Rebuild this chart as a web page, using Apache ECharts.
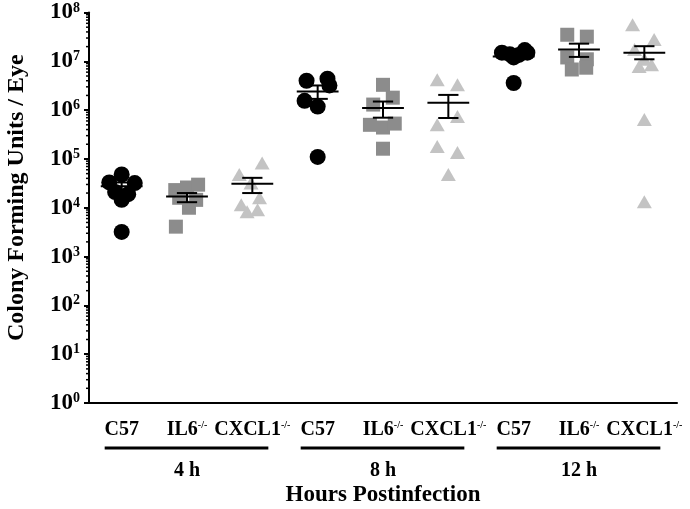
<!DOCTYPE html>
<html>
<head>
<meta charset="UTF-8">
<title>CFU per eye</title>
<script src="https://cdn.jsdelivr.net/npm/echarts@6/dist/echarts.min.js"></script>
<style>
  html, body { margin: 0; padding: 0; background: #fff; }
  #chart { width: 690px; height: 509px; }
</style>
</head>
<body>
<div id="chart"></div>
<script>
const strains = ['C57', 'IL6', 'CXCL1'];
const strainSup = ['', '-/-', '-/-'];
const times = ['4 h', '8 h', '12 h'];
const xTitle = 'Hours Postinfection';
const yTitle = 'Colony Forming Units / Eye';

// CFU / eye, one inner array per time point (4 h, 8 h, 12 h)
const c57 = [
  [4.8e4, 3.3e4, 3.2e4, 2.1e4, 1.9e4, 1.45e4, 3.2e3],
  [4.0e6, 4.4e6, 3.2e6, 1.55e6, 1.18e6, 1.1e5],
  [1.5e7, 1.4e7, 1.7e7, 1.5e7, 1.2e7, 1.35e7, 3.6e6]
];
const il6 = [
  [2.3e4, 2.6e4, 2.97e4, 1.6e4, 1.45e4, 1.0e4, 4.1e3],
  [3.3e6, 1.8e6, 1.3e6, 5.0e5, 4.4e5, 5.3e5, 1.62e5],
  [3.5e7, 3.2e7, 1.2e7, 1.1e7, 6.8e6, 7.4e6]
];
const cxcl1 = [
  [8.3e4, 4.8e4, 3.2e4, 1.6e4, 1.15e4, 8.3e3, 9.1e3],
  [4.2e6, 3.3e6, 7.4e5, 5.0e5, 1.8e5, 1.35e5, 4.8e4],
  [5.6e7, 2.8e7, 1.74e7, 1.1e7, 7.8e6, 8.5e6, 6.4e5, 1.32e4]
];

// mean and mean +/- SEM, groups in axis order
const groupMean = [2.75e4, 1.7e4, 3.1e4, 2.4e6, 1.1e6, 1.42e6, 1.26e7, 1.74e7, 1.5e7];
const groupLow  = [2.3e4, 1.3e4, 2.0e4, 1.7e6, 7.0e5, 6.9e5, 1.1e7, 1.23e7, 1.1e7];
const groupHigh = [3.3e4, 2.0e4, 4.1e4, 3.2e6, 1.5e6, 2.05e6, 1.43e7, 2.3e7, 2.04e7];

// horizontal scatter of the dots, in category widths
const jitC57 = [
  [0, -0.19, 0.2, -0.1, 0.1, 0, 0],
  [-0.17, 0.15, 0.18, -0.2, 0, 0],
  [-0.18, -0.06, 0.17, 0.21, 0, 0.08, 0]
];
const jitIl6 = [
  [-0.18, 0, 0.17, -0.12, 0.14, 0.03, -0.17],
  [0, 0.15, -0.15, -0.2, 0, 0.18, 0],
  [-0.18, 0.12, -0.18, 0.12, -0.11, 0.11]
];
const jitCxcl1 = [
  [0.15, -0.2, -0.02, 0.11, -0.17, -0.08, 0.08],
  [-0.17, 0.14, 0.14, -0.17, -0.17, 0.14, 0],
  [-0.18, 0.15, -0.15, 0, -0.08, 0.11, 0, 0]
];

const FONT = '"Liberation Serif", "Times New Roman", serif';

const catLabels = [];
times.forEach(function () {
  strains.forEach(function (s, i) { catLabels.push(i); });
});

function points(vals, jit, s) {
  const out = [];
  vals.forEach(function (arr, t) {
    arr.forEach(function (v, j) {
      out.push([t * 3 + s + jit[t][j], v]);
    });
  });
  return out;
}

const errData = groupMean.map(function (m, i) {
  return [i, m, groupLow[i], groupHigh[i]];
});

const minorData = [];
for (let e = 0; e < 8; e++) {
  for (let k = 2; k <= 9; k++) minorData.push([-0.5, k * Math.pow(10, e)]);
}

const groupData = times.map(function (t, i) { return [i * 3, i * 3 + 2, i]; });

const chart = echarts.init(document.getElementById('chart'));
chart.setOption({
  animation: false,
  backgroundColor: '#fff',
  grid: { left: 89, right: 13, top: 12.5, bottom: 106, containLabel: false, outerBoundsMode: 'none' },
  xAxis: [
    {
      type: 'category',
      position: 'bottom',
      data: catLabels,
      axisLine: { onZero: false, lineStyle: { color: '#000', width: 2 } },
      axisTick: { alignWithLabel: true, length: 5, lineStyle: { color: '#000', width: 2 } },
      axisLabel: {
        margin: 17,
        interval: 0,
        formatter: function (v) {
          const i = +v;
          return strainSup[i] ? '{b|' + strains[i] + '}{s|' + strainSup[i] + '}' : '{b|' + strains[i] + '}';
        },
        rich: {
          b: { fontFamily: FONT, fontWeight: 'bold', fontSize: 20, color: '#000', lineHeight: 20 },
          s: { fontFamily: FONT, fontWeight: 'bold', fontSize: 10, color: '#000', lineHeight: 10, verticalAlign: 'top' }
        }
      },
      name: xTitle,
      nameLocation: 'middle',
      nameGap: 81,
      nameTextStyle: { fontFamily: FONT, fontWeight: 'bold', fontSize: 23, color: '#000' }
    },
    { type: 'value', min: -0.5, max: 8.5, show: false }
  ],
  yAxis: {
    type: 'log',
    logBase: 10,
    min: 1,
    max: 1e8,
    splitNumber: 8,
    splitLine: { show: false },
    axisLine: { show: true, onZero: false, lineStyle: { color: '#000', width: 2 } },
    axisTick: { show: true, length: 5, lineStyle: { color: '#000', width: 2 } },
    axisLabel: {
      margin: 9,
      formatter: function (v) {
        return '{b|10}{s|' + Math.round(Math.log10(v)) + '}';
      },
      rich: {
        b: { fontFamily: FONT, fontWeight: 'bold', fontSize: 23, color: '#000', lineHeight: 23 },
        s: { fontFamily: FONT, fontWeight: 'bold', fontSize: 14, color: '#000', lineHeight: 14, verticalAlign: 'top' }
      }
    },
    name: yTitle,
    nameLocation: 'middle',
    nameGap: 60,
    nameTextStyle: { fontFamily: FONT, fontWeight: 'bold', fontSize: 24, color: '#000', padding: [0, 0, 0, 20] }
  },
  series: [
    {
      type: 'scatter', xAxisIndex: 1, symbol: 'circle', symbolSize: 16,
      itemStyle: { color: '#000', opacity: 1 },
      data: points(c57, jitC57, 0), z: 2
    },
    {
      type: 'scatter', xAxisIndex: 1, symbol: 'rect', symbolSize: 14,
      itemStyle: { color: '#8c8c8c', opacity: 1 },
      data: points(il6, jitIl6, 1), z: 2
    },
    {
      type: 'scatter', xAxisIndex: 1, symbol: 'triangle', symbolSize: [15, 13],
      itemStyle: { color: '#c3c3c3', opacity: 1 },
      data: points(cxcl1, jitCxcl1, 2), z: 2
    },
    {
      // mean +/- SEM
      type: 'custom', xAxisIndex: 1, z: 5, clip: false,
      encode: { x: 0, y: 1 },
      data: errData,
      renderItem: function (params, api) {
        const x = api.value(0);
        const m = api.coord([x, api.value(1)]);
        const lo = api.coord([x, api.value(2)]);
        const hi = api.coord([x, api.value(3)]);
        const bw = api.coord([x + 1, api.value(1)])[0] - m[0];
        const wm = bw * 0.32, wc = bw * 0.155;
        const st = { stroke: '#000', lineWidth: 2 };
        return {
          type: 'group',
          children: [
            { type: 'line', shape: { x1: m[0] - wm, y1: m[1], x2: m[0] + wm, y2: m[1] }, style: st },
            { type: 'line', shape: { x1: m[0], y1: hi[1], x2: m[0], y2: lo[1] }, style: st },
            { type: 'line', shape: { x1: m[0] - wc, y1: hi[1], x2: m[0] + wc, y2: hi[1] }, style: st },
            { type: 'line', shape: { x1: m[0] - wc, y1: lo[1], x2: m[0] + wc, y2: lo[1] }, style: st }
          ]
        };
      }
    },
    {
      // log minor ticks on the y axis
      type: 'custom', xAxisIndex: 1, z: 5, clip: false, silent: true,
      encode: { x: 0, y: 1 },
      data: minorData,
      renderItem: function (params, api) {
        const p = api.coord([api.value(0), api.value(1)]);
        return {
          type: 'line',
          shape: { x1: p[0] - 3, y1: p[1], x2: p[0], y2: p[1] },
          style: { stroke: '#000', lineWidth: 1.5 }
        };
      }
    },
    {
      // time point brackets under the axis
      type: 'custom', xAxisIndex: 1, z: 5, clip: false, silent: true,
      encode: { x: 0, y: 1 },
      data: groupData,
      renderItem: function (params, api) {
        const a = api.coord([api.value(0), 1]);
        const b = api.coord([api.value(1), 1]);
        const bw = api.coord([api.value(0) + 1, 1])[0] - a[0];
        return {
          type: 'group',
          children: [
            {
              type: 'line',
              shape: { x1: a[0] - bw * 0.26, y1: a[1] + 45, x2: b[0] + bw * 0.245, y2: a[1] + 45 },
              style: { stroke: '#000', lineWidth: 3 }
            },
            {
              type: 'text',
              style: {
                x: (a[0] + b[0]) / 2, y: a[1] + 68,
                text: times[api.value(2)],
                align: 'center', verticalAlign: 'middle',
                font: 'bold 20px ' + FONT, fill: '#000'
              }
            }
          ]
        };
      }
    }
  ]
});
</script>
</body>
</html>
